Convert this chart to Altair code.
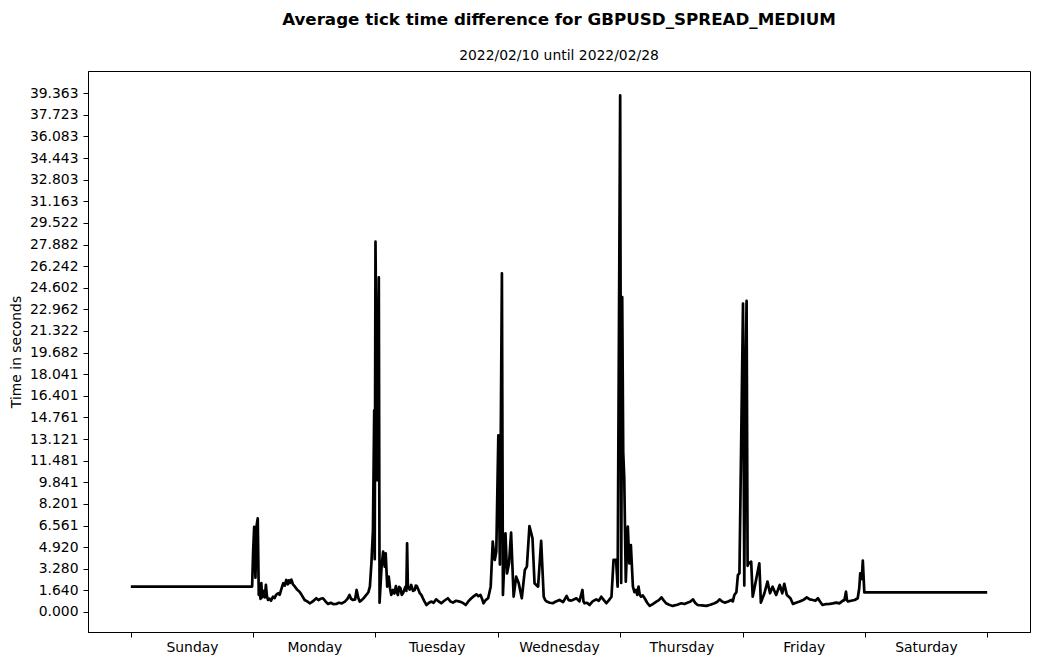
import altair as alt
import pandas as pd

# hours since Sunday 00:00 (x) and average tick time difference in seconds (y)
hours = [
    0.0, 23.8, 24.0, 24.2, 24.45, 24.7, 24.9,
    25.1, 25.3, 25.45, 25.6, 25.75, 25.9, 26.1, 26.3, 26.5, 26.7, 26.9, 27.2, 27.5, 27.9, 28.2,
    28.5, 28.9, 29.2, 29.5, 29.9, 30.2, 30.5, 30.8, 31.0, 31.2, 31.5, 31.8, 32.2, 32.6, 33.1,
    33.5, 34.1, 34.6, 35.1, 35.5, 36.0, 36.4, 36.8, 37.2, 37.7, 38.2, 38.7, 39.2, 39.7, 40.3,
    40.8, 41.4, 42.0, 42.5, 42.9, 43.2, 43.6, 44.0, 44.3, 44.6, 44.9, 45.3, 45.8, 46.2, 46.6,
    46.9, 47.2, 47.5, 47.75, 47.85, 48.0, 48.35, 48.65, 48.8, 49.2, 49.5, 49.8,
    50.0, 50.3, 50.6, 50.85, 51.1, 51.4, 51.7, 52.0, 52.2, 52.4, 52.65, 52.9, 53.15, 53.4,
    53.65, 53.9, 54.05, 54.2, 54.35, 54.7, 55.0, 55.35, 55.7, 55.9, 56.1, 56.4, 56.7, 57.0,
    57.3, 57.6, 58.0, 58.5, 59.0, 59.4, 59.9, 60.4, 60.9, 61.5, 62.2, 62.7, 63.2, 63.8, 64.5,
    65.1, 65.7, 66.2, 66.8, 67.3, 67.8, 68.2, 68.6, 68.9, 69.2, 69.6, 70.1, 70.6,
    71.0, 71.4, 71.7, 72.1, 72.4, 72.8, 73.0, 73.5, 73.8, 74.2, 74.6, 75.1, 75.6, 76.1, 76.7,
    77.3, 77.7, 78.2, 78.8, 79.2, 79.9, 80.5, 81.0, 81.3, 81.6, 82.2, 82.8, 83.4, 84.1, 84.8,
    85.5, 85.9, 86.4, 86.9, 87.4, 88.0, 88.6, 88.8, 89.0, 89.5, 90.0, 90.6, 91.3, 91.8, 92.3,
    92.8, 93.3, 93.8, 94.3, 94.7, 95.2, 95.5, 96.0, 96.2, 96.4, 96.6, 96.8, 97.1, 97.5, 97.8,
    98.1, 98.5, 98.8, 99.1, 99.35, 99.6, 99.85, 100.1, 100.45, 100.8, 101.3, 101.8, 102.4,
    103.1, 103.6, 104.1, 104.5, 105.0, 105.6, 106.3, 107.2, 108.0, 108.6, 109.3, 109.8, 110.3,
    110.7, 111.2, 112.0, 112.9, 113.7, 114.5, 115.0, 115.5, 116.0, 116.5, 117.2, 117.8, 118.1,
    118.4, 118.8, 119.1, 119.4, 120.1, 120.35, 120.55, 120.8, 121.0, 121.2, 121.7, 122.0,
    122.4, 123.3, 123.6, 124.3, 124.9, 125.4, 125.9, 126.6, 127.3, 127.8, 128.2, 128.7, 129.4,
    129.9, 130.5, 131.2, 131.9, 132.6, 133.2, 133.8, 134.3, 134.8, 135.2, 135.7, 136.4, 137.1,
    137.7, 138.4, 139.0, 139.7, 140.0, 140.3, 140.5, 140.7, 141.3, 142.0, 142.6, 142.9, 143.1,
    143.4, 143.6, 143.9, 168.0,
]
seconds = [
    1.93, 1.93, 4.6, 6.45, 2.6, 6.6, 7.1,
    1.3, 1.42, 1.0, 2.2, 1.1, 1.29, 1.6, 1.1, 2.05, 1.2, 0.91, 1.0, 0.85, 1.16, 1.05,
    1.3, 1.42, 1.3, 1.7, 2.18, 2.0, 2.43, 2.1, 2.4, 2.2, 2.45, 2.1, 1.92, 1.7, 1.54,
    1.3, 0.91, 0.8, 0.66, 0.75, 0.9, 1.04, 0.9, 1.0, 1.04, 0.8, 0.61, 0.7, 0.6, 0.61,
    0.7, 0.65, 0.79, 1.0, 1.29, 1.0, 0.91, 0.95, 1.67, 1.1, 0.79, 0.9, 1.1, 1.29, 1.5,
    1.92, 3.7, 6.2, 15.3, 4.0, 28.1, 10.0, 25.4, 0.7, 3.5, 4.58, 3.44,
    4.45, 1.92, 2.68, 1.8, 1.29, 1.67, 1.4, 1.97, 1.5, 1.29, 1.9, 1.8, 1.3, 1.42,
    1.7, 1.92, 1.6, 5.21, 1.92, 1.7, 2.05, 1.6, 1.67, 2.0, 1.97, 1.7, 1.42, 1.3,
    1.04, 0.8, 0.53, 0.7, 0.79, 0.7, 0.96, 0.8, 0.66, 0.85, 1.04, 0.8, 0.71, 0.85, 0.79,
    0.7, 0.53, 0.8, 1.04, 1.2, 1.34, 1.2, 1.29, 1.0, 0.66, 0.9, 1.04, 1.92,
    5.34, 3.95, 4.58, 13.4, 3.6, 25.7, 1.29, 5.97, 2.93, 3.69, 6.02, 1.16, 2.68, 2.18, 1.04,
    3.19, 3.44, 6.52, 5.59, 2.18, 1.92, 5.39, 1.16, 0.9, 0.79, 0.7, 0.66, 0.8, 0.91, 0.75,
    1.21, 0.9, 0.86, 0.95, 1.04, 0.8, 1.67, 0.8, 0.66, 0.7, 0.53, 0.8, 0.96, 0.85, 1.16,
    0.9, 0.66, 0.9, 1.16, 3.95, 3.95, 1.92, 39.2, 2.2, 23.9, 12.1, 10.2, 2.3, 6.48, 3.69,
    5.08, 1.92, 1.5, 1.67, 1.3, 1.92, 1.3, 1.16, 1.25, 1.04, 0.7, 0.46, 0.6,
    0.79, 0.9, 1.11, 0.9, 0.66, 0.55, 0.46, 0.55, 0.66, 0.6, 0.71, 0.8, 0.96,
    0.7, 0.53, 0.5, 0.46, 0.55, 0.66, 0.75, 0.96, 0.8, 0.71, 0.8, 0.91, 0.8,
    1.29, 1.5, 2.81, 2.93, 23.4, 2.0, 16.6, 23.6, 3.5, 3.69, 3.82, 1.16,
    1.92, 3.69, 0.71, 1.42, 2.3, 1.42, 1.92, 1.29, 2.05, 1.42, 2.13, 1.29, 1.04,
    0.61, 0.7, 0.79, 0.9, 1.11, 0.95, 0.91, 0.85, 1.04, 0.8, 0.53, 0.6, 0.61,
    0.65, 0.71, 0.65, 0.86, 0.9, 1.54, 0.9, 0.79, 0.85, 0.91, 1.04, 1.8, 2.93,
    2.5, 3.9, 1.49, 1.49,
]

day_names = ["Sunday", "Monday", "Tuesday", "Wednesday", "Thursday", "Friday", "Saturday"]
x_tick_values = [0, 12, 24, 36, 48, 60, 72, 84, 96, 108, 120, 132, 144, 156, 168]
y_tick_labels = [
    "0.000", "1.640", "3.280", "4.920", "6.561", "8.201", "9.841", "11.481", "13.121",
    "14.761", "16.401", "18.041", "19.682", "21.322", "22.962", "24.602", "26.242",
    "27.882", "29.522", "31.163", "32.803", "34.443", "36.083", "37.723", "39.363",
]
y_tick_values = [float(s) for s in y_tick_labels]

df = pd.DataFrame({"hour": hours, "seconds": seconds})

FONT = "DejaVu Sans"
FS = 13.9
names_js = "[" + ",".join("'" + d + "'" for d in day_names) + "]"

common_axis = dict(
    grid=False,
    domainColor="black",
    tickColor="black",
    labelColor="black",
    titleColor="black",
    labelFont=FONT,
    titleFont=FONT,
    labelFontSize=FS,
    titleFontSize=FS,
    titleFontWeight="normal",
    domainWidth=1,
    tickWidth=1,
    tickSize=5,
    labelFlush=False,
    labelOverlap=False,
)

chart = (
    alt.Chart(df)
    .mark_line(color="black", strokeWidth=2.7, strokeJoin="round")
    .encode(
        x=alt.X(
            "hour:Q",
            scale=alt.Scale(domain=[-8.4, 176.4], nice=False, zero=False),
            axis=alt.Axis(
                values=x_tick_values,
                title=None,
                labelExpr=f"datum.value % 24 == 12 ? {names_js}[floor(datum.value / 24)] : ''",
                tickOpacity={"condition": {"test": "datum.value % 24 == 0", "value": 1}, "value": 0},
                labelPadding=3,
                **common_axis,
            ),
        ),
        y=alt.Y(
            "seconds:Q",
            scale=alt.Scale(domain=[-1.52, 41.05], nice=False, zero=False),
            axis=alt.Axis(
                values=y_tick_values,
                format=".3f",
                title="Time in seconds",
                titlePadding=6,
                labelPadding=5,
                **common_axis,
            ),
        ),
    )
    .properties(
        width=942,
        height=561,
        background="white",
        padding={"left": 88, "top": 71, "right": 9, "bottom": 32},
        autosize=alt.AutoSizeParams(type="none"),
        title=alt.TitleParams(
            text="Average tick time difference for GBPUSD_SPREAD_MEDIUM",
            subtitle="2022/02/10 until 2022/02/28",
            anchor="middle",
            frame="group",
            font=FONT,
            fontSize=16.7,
            fontWeight="bold",
            color="black",
            subtitleFont=FONT,
            subtitleFontSize=FS,
            subtitleColor="black",
            subtitlePadding=20,
            offset=8,
        ),
    )
    .configure_view(stroke="black", strokeWidth=1)
)

chart.save("out.html", embed_options={"renderer": "svg", "actions": False})
